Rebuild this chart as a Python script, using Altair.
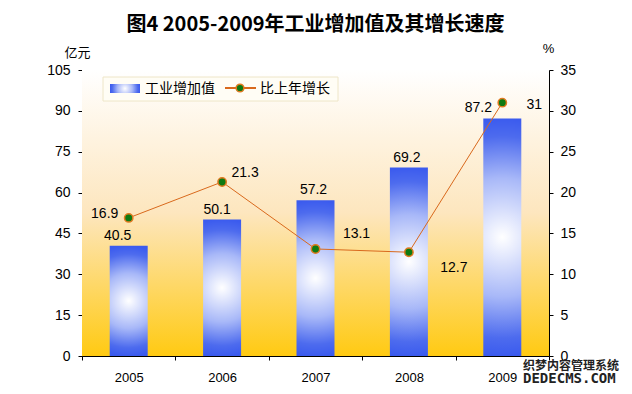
import altair as alt
import pandas as pd

years = ["2005", "2006", "2007", "2008", "2009"]
value_added = [40.5, 50.1, 57.2, 69.2, 87.2]
growth = [16.9, 21.3, 13.1, 12.7, 31]
left_ticks = [0, 15, 30, 45, 60, 75, 90, 105]
right_ticks = [0, 5, 10, 15, 20, 25, 30, 35]
legend_labels = ["工业增加值", "比上年增长"]
title_text = "图4 2005-2009年工业增加值及其增长速度"
watermark = ["织梦内容管理系统", "DEDECMS.COM"]

df = pd.DataFrame({"year": years, "value": value_added, "growth": growth})
one = pd.DataFrame({"k": [0]})

W, H = 467, 286
FONT = "Liberation Sans, Noto Sans CJK SC, sans-serif"
CJK = "Noto Sans CJK SC, sans-serif"

x = alt.X("year:N", sort=years,
          scale=alt.Scale(paddingInner=0, paddingOuter=0),
          axis=alt.Axis(title=None, labelAngle=0, tickBand="extent", tickSize=4,
                        labelPadding=11, labelFontSize=13, labelFont=FONT,
                        domainColor="black", tickColor="black", labelColor="black"))

yl = alt.Y("value:Q", scale=alt.Scale(domain=[0, 105]),
           axis=alt.Axis(values=left_ticks, title="亿元", titleAngle=0, titleX=-5, titleY=-18,
                         titleAlign="center", titleBaseline="middle", titleFont=CJK,
                         titleFontSize=13, titleFontWeight="normal", grid=False,
                         tickSize=4, labelPadding=8, labelFontSize=14, labelFont=FONT,
                         domainColor="black", tickColor="black", labelColor="black"))

yr = alt.Y("growth:Q", scale=alt.Scale(domain=[0, 35]),
           axis=alt.Axis(orient="right", values=right_ticks, title="%", titleAngle=0,
                         titleX=-1, titleY=-22, titleAlign="center", titleBaseline="middle",
                         titleFont=FONT, titleFontSize=13, titleFontWeight="normal",
                         grid=False, tickSize=4, labelPadding=7, labelFontSize=14,
                         labelFont=FONT, domainColor="black", tickColor="black",
                         labelColor="black"))

bg_grad = alt.LinearGradient(
    gradient="linear",
    stops=[alt.GradientStop(color="#FFFFFF", offset=0),
           alt.GradientStop(color="#FDE6BE", offset=0.5),
           alt.GradientStop(color="#FFCA12", offset=1)],
    x1=0, x2=0, y1=0, y2=1)

bar_grad = alt.RadialGradient(
    gradient="radial",
    stops=[alt.GradientStop(color="#FFFFFF", offset=0),
           alt.GradientStop(color="#A8B8F8", offset=0.5),
           alt.GradientStop(color="#4D6BEE", offset=0.85),
           alt.GradientStop(color="#3B5BEE", offset=1)],
    x1=0.5, y1=0.5, r1=0, x2=0.5, y2=0.5, r2=0.5)

bg = alt.Chart(one).mark_rect(color=bg_grad).encode(
    x=alt.value(0), x2=alt.value(W), y=alt.value(0), y2=alt.value(H))

bars = alt.Chart(df).mark_bar(size=38, color=bar_grad).encode(x=x, y=yl)

bar_dx = {"2005": -11, "2006": -5, "2007": -2, "2008": -2, "2009": -24}
b_labels = []
for yv, ddx in bar_dx.items():
    b_labels.append(
        alt.Chart(df).transform_filter(alt.datum.year == yv)
        .mark_text(baseline="bottom", dx=ddx, dy=-3, fontSize=14, font=FONT, color="black")
        .encode(x=x, y=yl, text=alt.Text("value:Q")))

line = alt.Chart(df).mark_line(color="#D9691C", strokeWidth=1).encode(x=x, y=yr)
pts = alt.Chart(df).mark_circle(color="#0E7A12", stroke="#E07A20", strokeWidth=1.5,
                                size=70, opacity=1).encode(x=x, y=yr)

offsets = {"2005": (-24, -4), "2006": (23, -9), "2007": (41, -15),
           "2008": (45, 16), "2009": (32, 2)}
g_labels = []
for yv, (ddx, ddy) in offsets.items():
    g_labels.append(
        alt.Chart(df).transform_filter(alt.datum.year == yv)
        .mark_text(dx=ddx, dy=ddy, fontSize=14, font=FONT, color="black", baseline="middle")
        .encode(x=x, y=yr, text=alt.Text("growth:Q")))

# legend box
leg_box = alt.Chart(one).mark_rect(fill="#FFFDF5", stroke="#EEE6C8", strokeWidth=1).encode(
    x=alt.value(21), x2=alt.value(256), y=alt.value(7), y2=alt.value(31))
leg_sw = alt.Chart(one).mark_rect(color=bar_grad).encode(
    x=alt.value(28), x2=alt.value(58), y=alt.value(14), y2=alt.value(23))
leg_t1 = alt.Chart(one).mark_text(align="left", baseline="middle", font=CJK, fontSize=14,
                                  color="black", text=legend_labels[0]).encode(
    x=alt.value(63), y=alt.value(19))
leg_line = alt.Chart(one).mark_rule(color="#D9691C", strokeWidth=2).encode(
    x=alt.value(143), x2=alt.value(174), y=alt.value(18))
leg_dot = alt.Chart(one).mark_circle(color="#0E7A12", stroke="#E07A20", strokeWidth=1.5,
                                     size=60, opacity=1).encode(
    x=alt.value(158), y=alt.value(18))
leg_t2 = alt.Chart(one).mark_text(align="left", baseline="middle", font=CJK, fontSize=14,
                                  color="black", text=legend_labels[1]).encode(
    x=alt.value(178), y=alt.value(19))

wm1 = alt.Chart(one).mark_text(align="left", baseline="middle", font=CJK, fontSize=12,
                               fontWeight="bold", color="#222222", text=watermark[0]).encode(
    x=alt.value(441), y=alt.value(296))
wm2 = alt.Chart(one).mark_text(align="left", baseline="middle", font="DejaVu Sans Mono",
                               fontSize=14, fontWeight="bold", color="#222222",
                               text=watermark[1]).encode(
    x=alt.value(441), y=alt.value(309))

left_layer = alt.layer(bars, *b_labels)
right_layer = alt.layer(line, pts, *g_labels)

chart = alt.layer(
    bg, left_layer, right_layer, leg_box, leg_sw, leg_t1, leg_line, leg_dot, leg_t2, wm1, wm2
).resolve_scale(y="independent").properties(
    width=W, height=H,
    title=alt.TitleParams(title_text, font=CJK, fontSize=20, fontWeight="bold",
                          anchor="middle", offset=7, color="black"),
    autosize=alt.AutoSizeParams(type="none"),
    padding={"left": 74, "top": 62, "right": 75, "bottom": 30},
).configure_view(stroke=None).configure(background="white")

chart.save("out.html", embed_options={"renderer": "svg", "actions": False})
